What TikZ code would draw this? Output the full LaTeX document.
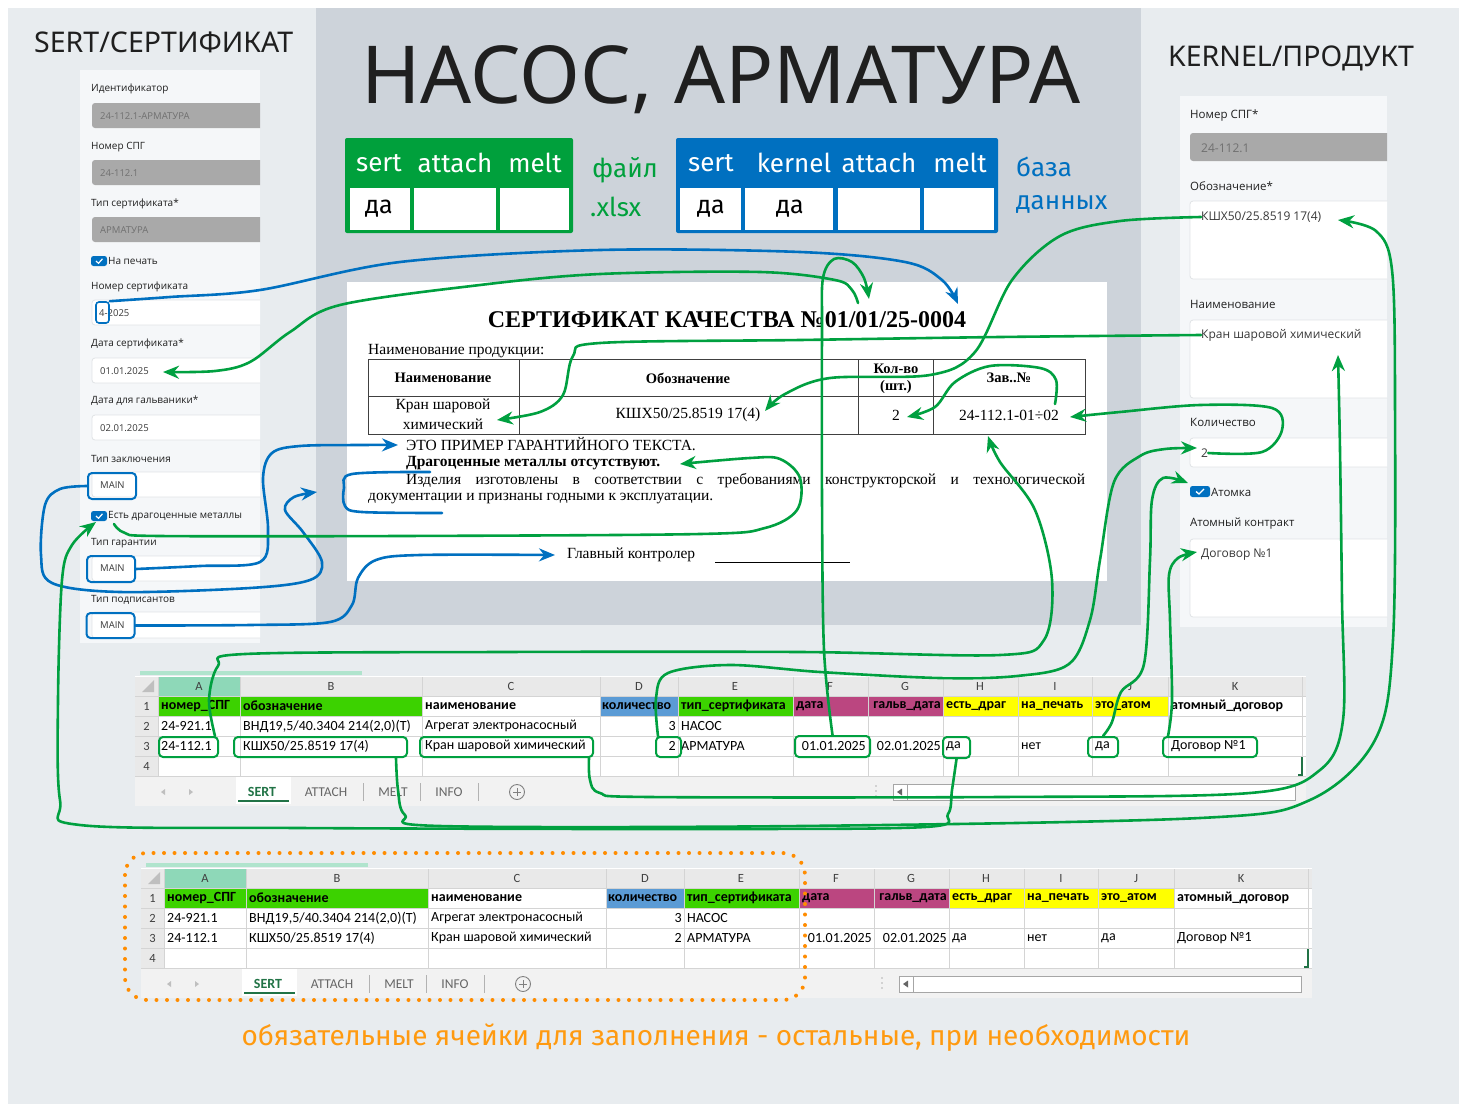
\documentclass[tikz,border=0pt]{standalone}
\usepackage{fontspec}
\setmainfont{Liberation Serif}
\newfontfamily\uif{Open Sans}
\newfontfamily\xlf{Carlito}
\newfontfamily\ttlf{Noto Sans}
\newfontfamily\ffs{Fira Sans}
\usetikzlibrary{arrows.meta}
\definecolor{bgc}{HTML}{E8ECEF}
\definecolor{midc}{HTML}{CDD3DA}
\definecolor{panel}{HTML}{F5F7F9}
\definecolor{gfield}{HTML}{A9A9A9}
\definecolor{gtext}{HTML}{707070}
\definecolor{fborder}{HTML}{E0E3E6}
\definecolor{lg}{HTML}{00A040}
\definecolor{lb}{HTML}{0070C0}
\definecolor{hg}{HTML}{00A03C}
\definecolor{orng}{HTML}{FF8C00}
\definecolor{orngt}{HTML}{FF9A10}
\definecolor{xgreen}{HTML}{3CD200}
\definecolor{xblue}{HTML}{5B9BD5}
\definecolor{xmag}{HTML}{BB4680}
\definecolor{xyel}{HTML}{FFFF00}
\definecolor{xhead}{HTML}{E9E9E9}
\definecolor{xgrid}{HTML}{D4D4D4}
\definecolor{xsel}{HTML}{8ED8B8}
\definecolor{xtab}{HTML}{217346}
\tikzset{
 gl/.style={draw=lg, line width=2.6pt, line cap=round, line join=round},
 bl/.style={draw=lb, line width=2.6pt, line cap=round, line join=round},
 tip/.style={-{Stealth[length=16pt,width=13pt]}},
 flab/.style={anchor=west, inner sep=0, font=\uif\fontsize{10}{12}\selectfont, text=black!88},
 ftx/.style={anchor=west, inner sep=0, font=\uif\fontsize{9.5}{11}\selectfont, text=black!78},
 gtx/.style={ftx, text=gtext},
 rlab/.style={anchor=west, inner sep=0, font=\uif\fontsize{11.5}{13}\selectfont, text=black!88},
 rtx/.style={anchor=west, inner sep=0, font=\uif\fontsize{12}{14}\selectfont, text=black!78},
 mbox/.style={draw=lb, line width=2pt, rounded corners=4pt, inner sep=0, minimum width=48pt, minimum height=26pt},
 gbox/.style={draw=lg, line width=2pt, rounded corners=4pt, inner sep=0},
 cbx/.style={fill=lb, rounded corners=2.5pt, inner sep=0, minimum width=16pt, minimum height=10pt},
 xc/.style={anchor=west, inner sep=0, font=\xlf\fontsize{14}{16}\selectfont, text=black},
 xb/.style={anchor=west, inner sep=0, font=\xlf\bfseries\fontsize{14}{16}\selectfont, text=black},
 colh/.style={inner sep=0, font=\xlf\fontsize{12.5}{14}\selectfont, text=black!75},
 tabt/.style={inner sep=0, font=\xlf\fontsize{13.5}{15}\selectfont, text=black!60},
 cert/.style={inner sep=0, font=\fontsize{15.5}{17}\selectfont},
 certb/.style={inner sep=0, font=\bfseries\fontsize{14.5}{16}\selectfont},
 hdr/.style={inner sep=0, font=\ffs\fontsize{26}{28}\selectfont, text=white},
 dacell/.style={inner sep=0, font=\ffs\fontsize{25}{27}\selectfont, text=black},
}
\newcommand\xsheet[1]{%
 \fill[white] (135,676) rectangle (1306,806);
 \fill[xsel!70] (140,671) rectangle (362,675);
 \fill[xhead] (135,677) rectangle (1306,696);
 \fill[xsel] (158,677) rectangle (240,696);
 \fill[xhead] (135,696) rectangle (158,776);
 \fill[xgreen] (158,696) rectangle (422,716);
 \fill[xblue] (600,696) rectangle (678,716);
 \fill[xgreen] (678,696) rectangle (793,716);
 \fill[xmag] (793,696) rectangle (943,716);
 \fill[xyel] (943,696) rectangle (1168,716);
 \foreach \xx in {158,240,422,600,678,793,868,943,1018,1092,1168,1302} \draw[xgrid, line width=0.7pt] (\xx,677) -- (\xx,776);
 \foreach \yy in {696,716,736,756,776} \draw[xgrid, line width=0.7pt] (135,\yy) -- (1306,\yy);
 \fill[black!25] (154,680) -- (154,692) -- (142,692) -- cycle;
 \foreach \cx/\cl [count=\ci] in {199/A,331/B,511/C,639/D,735/E,830/F,905/G,980/H,1055/I,1130/J,1235/K}
   \node[colh] (#1c\ci) at (\cx,686.5) {\cl};
 \foreach \ry [count=\ri] in {706,726,746,766}
   \node[colh] (#1r\ri) at (146.5,\ry) {\ri};
 \node[xb] (#1h1) at (161,706) {номер\_СПГ};
 \node[xb] (#1h2) at (243,706) {обозначение};
 \node[xb] (#1h3) at (425,706) {наименование};
 \node[xb] (#1h4) at (602,706) {количество};
 \node[xb] (#1h5) at (681,706) {тип\_сертификата};
 \node[xb] (#1h6) at (796,706) {дата};
 \node[xb, anchor=east] (#1h7) at (941,706) {гальв\_дата};
 \node[xb] (#1h8) at (946,706) {есть\_драг};
 \node[xb] (#1h9) at (1021,706) {на\_печать};
 \node[xb] (#1h10) at (1095,706) {это\_атом};
 \node[xb] (#1h11) at (1171,706) {атомный\_договор};
 \node[xc] (#1a2) at (161,726) {24-921.1};
 \node[xc] (#1b2) at (243,726) {ВНД19,5/40.3404 214(2,0)(T)};
 \node[xc] (#1cc2) at (425,726) {Агрегат электронасосный};
 \node[xc, anchor=east] (#1d2) at (676,726) {3};
 \node[xc] (#1e2) at (681,726) {НАСОС};
 \node[xc] (#1a3) at (161,746) {24-112.1};
 \node[xc] (#1b3) at (243,746) {КШХ50/25.8519 17(4)};
 \node[xc] (#1cc3) at (425,746) {Кран шаровой химический};
 \node[xc, anchor=east] (#1d3) at (676,746) {2};
 \node[xc] (#1e3) at (681,746) {АРМАТУРА};
 \node[xc, anchor=east] (#1f3) at (866,746) {01.01.2025};
 \node[xc, anchor=east] (#1g3) at (941,746) {02.01.2025};
 \node[xc] (#1h3v) at (946,746) {да};
 \node[xc] (#1i3) at (1021,746) {нет};
 \node[xc] (#1j3) at (1095,746) {да};
 \node[xc] (#1k3) at (1171,746) {Договор №1};
 \draw[xtab, line width=2pt] (1302,757) -- (1302,775) -- (1298,775);
 \fill[black!5] (135,777) rectangle (1306,806);
 \fill[white] (236,777) rectangle (291,804);
 \draw[xtab, line width=2.2pt] (238,801) -- (289,801);
 \node[inner sep=0, font=\xlf\bfseries\fontsize{14}{16}\selectfont, text=xtab] (#1t1) at (262,792) {SERT};
 \node[tabt] (#1t2) at (326,792) {ATTACH};
 \node[tabt] (#1t3) at (393,792) {MELT};
 \node[tabt] (#1t4) at (449,792) {INFO};
 \foreach \sx in {363,420,478} \draw[black!30, line width=0.8pt] (\sx,783) -- (\sx,801);
 \draw[black!50, line width=0.9pt] (517,792) circle (7.5pt);
 \draw[black!50, line width=1pt] (513,792) -- (521,792) (517,788) -- (517,796);
 \fill[black!25] (161,792) -- (165,789) -- (165,795) -- cycle;
 \fill[black!25] (193,792) -- (189,789) -- (189,795) -- cycle;
 \foreach \dy in {786,791,796} \fill[black!30] (876,\dy) circle (0.9pt);
 \draw[black!35, fill=white, line width=0.8pt] (893,784) rectangle (1295,800);
 \draw[black!35, line width=0.8pt] (907,784) -- (907,800);
 \fill[black!60] (897,792) -- (902,788.5) -- (902,795.5) -- cycle;
}
\begin{document}
\begin{tikzpicture}[x=1pt,y=-1pt]
\useasboundingbox (0,0) rectangle (1467,1111);
\fill[white] (0,0) rectangle (1467,1111);
\fill[bgc] (8,8) rectangle (1459,1104);
\fill[midc] (316,8) rectangle (1141,625);

% titles
\node[inner sep=0, font=\ttlf\fontsize{80}{84}\selectfont, text=black!88] (title) at (721,80) {НАСОС, АРМАТУРА};
\node[anchor=west, inner sep=0, font=\ttlf\fontsize{28.5}{30}\selectfont, text=black!88] (tsert) at (34,42) {SERT/СЕРТИФИКАТ};
\node[anchor=west, inner sep=0, font=\ttlf\fontsize{28.5}{30}\selectfont, text=black!88] (tkern) at (1168,58) {KERNEL/ПРОДУКТ};

% green table box
\fill[hg, rounded corners=2pt] (345,138) rectangle (573,233);
\fill[white] (350,188) rectangle (410,230);
\fill[white] (414,188) rectangle (496,230);
\fill[white] (500,188) rectangle (569,230);
\node[hdr] (gs1) at (379,163) {sert};
\node[hdr] (gs2) at (455,163) {attach};
\node[hdr] (gs3) at (535,163) {melt};
\node[dacell] (gd1) at (379,209) {да};
\node[anchor=west, inner sep=0, font=\ffs\fontsize{26}{28}\selectfont, text=hg] (fl1) at (592,170) {файл};
\node[anchor=west, inner sep=0, font=\ffs\fontsize{26}{28}\selectfont, text=hg] (fl2) at (590,207) {.xlsx};
% blue table box
\fill[lb, rounded corners=2pt] (676,138) rectangle (998,233);
\fill[white] (680,188) rectangle (741,230);
\fill[white] (745,188) rectangle (833,230);
\fill[white] (838,188) rectangle (920,230);
\fill[white] (924,188) rectangle (994,230);
\node[hdr] (bs1) at (711,163) {sert};
\node[hdr] (bs2) at (794,163) {kernel};
\node[hdr] (bs3) at (879,163) {attach};
\node[hdr] (bs4) at (960,163) {melt};
\node[dacell] (bd1) at (711,209) {да};
\node[dacell] (bd2) at (790,209) {да};
\node[anchor=west, inner sep=0, font=\ffs\fontsize{26}{28}\selectfont, text=lb] (db1) at (1016,167) {база};
\node[anchor=west, inner sep=0, font=\ffs\fontsize{26}{28}\selectfont, text=lb] (db2) at (1016,204) {данных};

% certificate
\fill[white] (347,282) rectangle (1107,581);
\node[inner sep=0, font=\bfseries\fontsize{24}{26}\selectfont] (ctitle) at (727,320) {СЕРТИФИКАТ КАЧЕСТВА №01/01/25-0004};
\node[cert, anchor=west] (cprod) at (368,351) {Наименование продукции:};
\draw[black!75, line width=0.9pt] (368,359) rectangle (1085,434);
\draw[black!75, line width=0.9pt] (368,396) -- (1085,396);
\foreach \vx in {519,858,933} \draw[black!75, line width=0.9pt] (\vx,359) -- (\vx,434);
\node[certb] (ch1) at (443,378) {Наименование};
\node[certb] (ch2) at (688,378) {Обозначение};
\node[certb] (ch3a) at (896,369) {Кол-во};
\node[certb] (ch3b) at (896,387) {(шт.)};
\node[certb] (ch4) at (1009,378) {Зав..№};
\node[cert] (cn1) at (443,406) {Кран шаровой};
\node[cert] (cn2) at (443,424) {химический};
\node[cert] (cobz) at (688,415) {КШХ50/25.8519 17(4)};
\node[cert] (cqty) at (896,415) {2};
\node[cert] (czav) at (1009,415) {24-112.1-01÷02};
\node[cert, anchor=west] (cgar) at (406,444) {ЭТО ПРИМЕР ГАРАНТИЙНОГО ТЕКСТА.};
\node[cert, anchor=west, font=\bfseries\fontsize{15.5}{17}\selectfont] (cdrag) at (406,463) {Драгоценные металлы отсутствуют.};
\node[cert, anchor=west] (cpar1) at (406,481) {\makebox[679pt][s]{Изделия изготовлены в соответствии с требованиями конструкторской и технологической}};
\node[cert, anchor=west] (cpar2) at (368,499) {документации и признаны годными к эксплуатации.};
\node[cert, anchor=west] (cctrl) at (567,555) {Главный контролер};
\draw[black, line width=0.8pt] (715,562) -- (850,562);

% left form
\begin{scope}
\clip (80,70) rectangle (260,643);
\fill[panel] (80,70) rectangle (260,643);
\fill[gfield, rounded corners=3pt] (92,103) rectangle (280,128);
\fill[gfield, rounded corners=3pt] (92,160) rectangle (280,185);
\fill[gfield, rounded corners=3pt] (92,217) rectangle (280,242);
\foreach \ya/\yb in {300/325,358/383,415/440,472/497,556/581,612/638}
  \draw[fill=white, draw=fborder, line width=0.8pt, rounded corners=3pt] (92,\ya) rectangle (280,\yb);
\end{scope}
\node[flab] (lf1) at (91,89) {Идентификатор};
\node[gtx] (lv1) at (100,116) {24-112.1-АРМАТУРА};
\node[flab] (lf2) at (91,147) {Номер СПГ};
\node[gtx] (lv2) at (100,173) {24-112.1};
\node[flab] (lf3) at (91,204) {Тип сертификата*};
\node[gtx] (lv3) at (100,230) {АРМАТУРА};
\node[cbx] (cb1) at (99,261) {};
\draw[white, line width=1.2pt] (96,261) -- (98.5,263.3) -- (102.5,258.8);
\node[flab] (lf4) at (108,261) {На печать};
\node[flab] (lf5) at (91,287) {Номер сертификата};
\node[ftx] (lv5) at (99,313) {4-2025};
\node[draw=lb, line width=1.6pt, rounded corners=3pt, inner sep=0, minimum width=13pt, minimum height=21pt] (box4) at (102.5,312.5) {};
\node[flab] (lf6) at (91,344) {Дата сертификата*};
\node[ftx] (fdate) at (100,371) {01.01.2025};
\node[flab] (lf7) at (91,401) {Дата для гальваники*};
\node[ftx] (lv7) at (100,428) {02.01.2025};
\node[flab] (lf8) at (91,459) {Тип заключения};
\node[ftx] (lv8) at (100,485) {MAIN};
\node[mbox] (mZ) at (112,486) {};
\node[cbx] (cb2) at (99,516) {};
\draw[white, line width=1.2pt] (96,516) -- (98.5,518.3) -- (102.5,513.8);
\node[flab] (fdrag) at (108,516) {Есть драгоценные металлы};
\node[flab] (lf9) at (91,543) {Тип гарантии};
\node[ftx] (lv9) at (100,568) {MAIN};
\node[mbox] (mG) at (111,569) {};
\node[flab] (lf10) at (91,600) {Тип подписантов};
\node[ftx] (lv10) at (100,625) {MAIN};
\node[mbox, minimum height=25pt] (mP) at (110.5,625.5) {};

% right form
\begin{scope}
\clip (1180,96) rectangle (1387,627);
\fill[panel] (1180,96) rectangle (1387,627);
\fill[gfield, rounded corners=3pt] (1190,133) rectangle (1400,161);
\foreach \ya/\yb in {201/279,320/398,438/467,539/617}
  \draw[fill=white, draw=fborder, line width=0.8pt, rounded corners=3pt] (1190,\ya) rectangle (1400,\yb);
\end{scope}
\node[rlab] (rf1) at (1190,116) {Номер СПГ*};
\node[rtx, text=gtext] (rv1) at (1201,148) {24-112.1};
\node[rlab] (rf2) at (1190,186) {Обозначение*};
\node[rtx] (robz) at (1201,217) {КШХ50/25.8519 17(4)};
\node[rlab] (rf3) at (1190,304) {Наименование};
\node[rtx] (rnaim) at (1201,335) {Кран шаровой химический};
\node[rlab] (rf4) at (1190,422) {Количество};
\node[rtx] (rqty) at (1201,453) {2};
\node[cbx, minimum width=20pt, minimum height=11pt] (cb3) at (1200,491.5) {};
\draw[white, line width=1.3pt] (1196,491.5) -- (1199,494) -- (1204,489);
\node[rlab] (ratom) at (1211,492) {Атомка};
\node[rlab] (rf5) at (1190,524) {Атомный контракт};
\node[rtx] (rdog) at (1201,555) {Договор №1};

% spreadsheets
\xsheet{sa}
\begin{scope}[shift={(6,192)}]
\xsheet{sb}
\end{scope}

% orange dotted frame and note
\draw[orng, line width=4pt, line cap=round, dash pattern=on 0pt off 10.5pt, rounded corners=22pt] (125,853) rectangle (805,1000);
\node[inner sep=0, font=\ffs\fontsize{28}{30}\selectfont, text=orngt] (note) at (716,1038) {обязательные ячейки для заполнения - остальные, при необходимости};

% green boxes on sheet 1
\node[gbox, minimum width=59pt, minimum height=20pt] (bA3) at (188.5,747) {};
\node[gbox, minimum width=173pt, minimum height=20pt] (bB3) at (320.5,747) {};
\node[gbox, minimum width=173pt, minimum height=20pt] (bC3) at (506.5,747) {};
\node[gbox, minimum width=25pt, minimum height=20pt] (bD3) at (668.5,747) {};
\node[gbox, minimum width=75pt, minimum height=21pt] (bF3) at (832.5,746.5) {};
\node[gbox, minimum width=27pt, minimum height=21pt] (bH3) at (956.5,747.5) {};
\node[gbox, minimum width=30pt, minimum height=20pt] (bJ3) at (1103,747) {};
\node[gbox, minimum width=94pt, minimum height=20pt] (bK3) at (1210,747) {};

% named ends
\coordinate (tCnum) at (958,304);
\coordinate (tCnum2) at (869,299);
\coordinate (sCdate) at (858,303);
\coordinate (tFdate) at (163,372);
\coordinate (tBrak) at (317,492);
\coordinate (tGar) at (398,445);
\coordinate (tCtrl) at (555,555);
\coordinate (tCobz) at (765,411);
\coordinate (tCnaim) at (497,420);
\coordinate (tZavR) at (1070,417);
\coordinate (sZav) at (1055,404);
\coordinate (tCqty) at (907,417);
\coordinate (tZavB) at (988,436);
\coordinate (tRqty) at (1197,448);
\coordinate (tAtom) at (1188,483);
\coordinate (tDog) at (1197,552);
\coordinate (tDrag) at (96,522);
\coordinate (tCdrag) at (680,464);
\coordinate (tRobz) at (1338,220);
\coordinate (tRnaim) at (1338,355);

% blue connectors
\draw[bl, tip] plot[smooth, tension=0.55] coordinates {(box4.north east) (170,297) (260,290) (400,262) (600,250) (800,252) (905,262) (942,280) (tCnum)};
\draw[bl, tip] plot[smooth, tension=0.55] coordinates {(mZ.west) (60,489) (45,505) (41,555) (52,583) (120,592) (250,588) (310,580) (322,562) (303,532) (285,510) (294,497) (tBrak)};
\draw[bl] plot[smooth, tension=0.55] coordinates {(430,472) (352,474) (344,488) (345,506) (362,512) (442,513)};
\draw[bl, tip] plot[smooth, tension=0.55] coordinates {(mG.east) (200,566) (260,562) (268,530) (263,478) (272,453) (300,446) (360,445) (tGar)};
\draw[bl, tip] plot[smooth, tension=0.55] coordinates {(mP.east) (250,625) (330,622) (352,605) (358,578) (376,560) (420,555) (tCtrl)};

% green connectors
\draw[gl, tip] plot[smooth, tension=0.55] coordinates {(bF3.north) (824,650) (822,500) (822,330) (823,278) (834,259) (852,262) (864,278) (tCnum2)};
\draw[gl, tip] plot[smooth, tension=0.55] coordinates {(sCdate) (852,290) (835,280) (760,272) (600,274) (480,285) (340,305) (290,332) (250,362) (215,371) (tFdate)};
\draw[gl, tip] plot[smooth, tension=0.55] coordinates {(robz.west) (1120,221) (1060,236) (1012,280) (975,352) (930,375) (830,378) (785,394) (tCobz)};
\draw[gl, tip] plot[smooth, tension=0.55] coordinates {(rnaim.west) (1000,337) (800,340) (600,343) (573,356) (563,395) (540,412) (tCnaim)};
\draw[gl, tip] plot[smooth, tension=0.55] coordinates {(rqty.east) (1262,452) (1282,430) (1272,408) (1200,405) (1120,412) (tZavR)};
\draw[gl, tip] plot[smooth, tension=0.55] coordinates {(sZav) (1056,380) (1040,368) (990,366) (955,382) (935,407) (tCqty)};
\draw[gl, tip] plot[smooth, tension=0.55] coordinates {([xshift=-4pt]bA3.north east) (209,700) (218,666) (245,654) (500,652) (800,652) (1000,655) (1044,640) (1052,580) (1035,510) (1000,462) (tZavB)};
\draw[gl, tip] plot[smooth, tension=0.55] coordinates {([xshift=3pt]bD3.north west) (656,698) (668,673) (730,665) (820,672) (940,678) (1017,676) (1069,664) (1090,620) (1100,560) (1114,482) (1140,456) (1165,449) (tRqty)};
\draw[gl, tip] plot[smooth, tension=0.55] coordinates {(bJ3.north) (1112,722) (1121,692) (1144,664) (1150,560) (1152,500) (1163,478) (tAtom)};
\draw[gl, tip] plot[smooth, tension=0.55] coordinates {([xshift=6pt]bK3.north west) (1172,700) (1170,620) (1169,575) (1178,558) (tDog)};
\draw[gl, tip] plot[smooth, tension=0.55] coordinates {(bH3.south) (952,790) (948,814) (925,827) (700,829) (300,828) (80,825) (60,800) (58,700) (62,580) (72,545) (tDrag)};
\draw[gl, tip] plot[smooth, tension=0.55] coordinates {([xshift=6pt,yshift=-8pt]fdrag.west) (125,533) (160,536) (400,536) (700,534) (765,528) (797,510) (800,478) (780,459) (750,458) (tCdrag)};
\draw[gl, tip] plot[smooth, tension=0.55] coordinates {([xshift=-12pt]bB3.south east) (398,790) (405,815) (440,826) (800,826) (1200,818) (1310,800) (1375,740) (1393,640) (1395,400) (1392,270) (1376,231) (tRobz)};
\draw[gl, tip] plot[smooth, tension=0.55] coordinates {([xshift=-5pt]bC3.south east) (590,780) (600,793) (650,797) (1000,797) (1250,793) (1320,770) (1343,720) (1342,600) (1340,450) (tRnaim)};
\end{tikzpicture}
\end{document}
